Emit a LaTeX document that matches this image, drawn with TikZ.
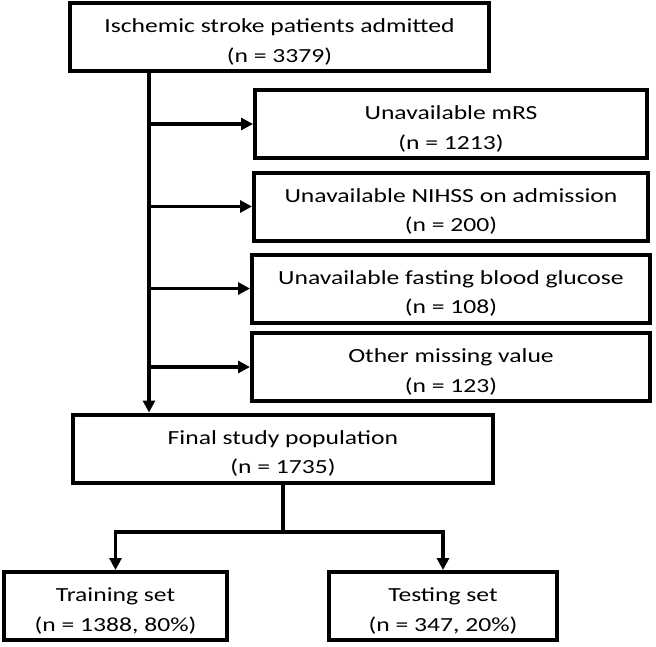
\documentclass[tikz,border=0pt]{standalone}
\usepackage{fontspec}
\setmainfont{Carlito}[FakeStretch=1.28]
\usepackage{tikz}
\usetikzlibrary{arrows.meta,calc}

\newcommand{\twoline}[2]{\raisebox{-4.5pt}[\height][\depth]{\begin{tabular}{@{}c@{}}#1\\#2\end{tabular}}}

\tikzset{
  flowbox/.style={draw,line width=4pt,rectangle,inner sep=0pt,
    minimum height=68pt,font=\fontsize{20}{29.5}\selectfont},
  flowline/.style={line width=3.5pt},
  flowarrow/.style={line width=3.5pt,-{Triangle[length=12pt,width=12pt]}}
}

\begin{document}
\begin{tikzpicture}[x=1pt,y=-1pt]
    \useasboundingbox (0,0) rectangle (656,646);

    \node[flowbox,minimum width=419pt] (admit) at (279.5,37) {\twoline{Ischemic stroke patients admitted}{(n = 3379)}};
    \node[flowbox,minimum width=392pt] (mrs) at (451,124) {\twoline{Unavailable mRS}{(n = 1213)}};
    \node[flowbox,minimum width=394pt] (nihss) at (451,206.5) {\twoline{Unavailable NIHSS on admission}{(n = 200)}};
    \node[flowbox,minimum width=398pt] (glucose) at (451,288.5) {\twoline{Unavailable fasting blood glucose}{(n = 108)}};
    \node[flowbox,minimum width=398pt] (other) at (451,367) {\twoline{Other missing value}{(n = 123)}};
    \node[flowbox,minimum width=420pt] (final) at (283,448.5) {\twoline{Final study population}{(n = 1735)}};
    \node[flowbox,minimum width=223pt] (train) at (115.5,606) {\twoline{Training set}{(n = 1388, 80\%)}};
    \node[flowbox,minimum width=228pt] (test) at (443,606) {\twoline{Testing set}{(n = 347, 20\%)}};

    \coordinate (spine) at (149,0);
    \coordinate (split) at (283,532);

    \draw[flowarrow] (admit.south -| spine) -- (final.north -| spine);
    \foreach \excl in {mrs,nihss,glucose,other}
        \draw[flowarrow] (\excl.west -| spine) -- (\excl.west);

    \draw[flowline] (final.south) -- (split);
    \draw[flowarrow] (split) -| (train.north);
    \draw[flowarrow] (split) -| (test.north);
\end{tikzpicture}
\end{document}
